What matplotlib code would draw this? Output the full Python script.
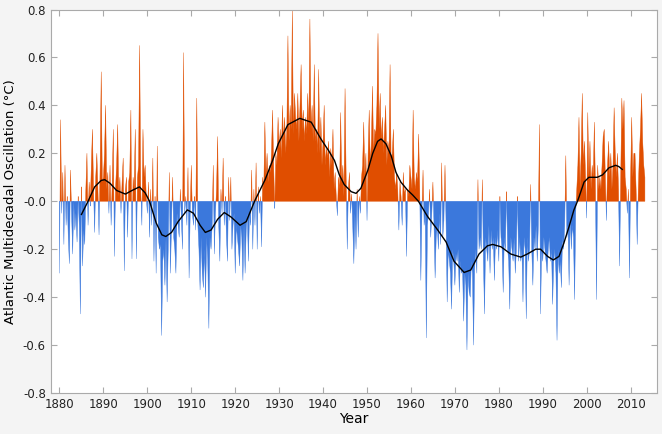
import numpy as np
import matplotlib
matplotlib.use("Agg")
import matplotlib.pyplot as plt

# AMO-Index, vier Werte pro Jahr (Quartale)
amo_1880s = [-0.30, 0.34, -0.05, 0.12, -0.18, 0.15, -0.10, 0.02, -0.15, -0.26, 0.13, -0.05,
             -0.22, 0.00, -0.12, -0.05, -0.17, 0.02, -0.10, -0.47, 0.06, -0.27, -0.12, -0.18,
             0.05, 0.20, -0.10, 0.08, -0.02, 0.15, 0.30, 0.05, -0.13, 0.10, 0.20, 0.05,
             -0.14, 0.15, 0.54, 0.08]
amo_1890s = [0.10, 0.20, 0.40, 0.05, 0.12, -0.05, 0.15, -0.10, 0.08, 0.30, -0.23, 0.05,
             0.15, 0.32, 0.02, 0.10, -0.05, 0.08, 0.18, -0.29, 0.05, 0.10, -0.15, 0.08,
             0.12, 0.38, -0.24, 0.10, 0.05, 0.30, -0.24, 0.10, 0.15, 0.65, 0.05, -0.10,
             0.30, 0.10, 0.15, 0.02]
amo_1900s = [-0.05, 0.08, -0.15, 0.05, -0.10, 0.18, -0.25, 0.02, -0.30, 0.23, -0.15, -0.20,
             -0.18, -0.56, -0.25, -0.20, -0.35, -0.15, -0.42, -0.20, 0.12, -0.30, -0.10, 0.10,
             -0.15, -0.20, -0.30, -0.05, -0.10, -0.15, 0.05, -0.08, -0.20, 0.62, -0.05, 0.02,
             -0.10, 0.14, -0.32, -0.05]
amo_1910s = [0.15, -0.05, -0.10, 0.02, -0.12, 0.43, -0.10, -0.20, -0.37, -0.15, -0.30, -0.36,
             -0.20, -0.40, -0.15, -0.25, -0.53, -0.15, -0.20, -0.10, 0.15, -0.22, -0.05, 0.05,
             0.27, -0.10, -0.25, 0.05, -0.05, 0.18, -0.10, 0.02, -0.15, -0.25, 0.10, -0.08,
             0.10, -0.20, -0.10, -0.05]
amo_1920s = [-0.30, -0.10, -0.15, -0.20, -0.27, -0.10, -0.15, -0.33, -0.10, -0.30, -0.12, -0.05,
             -0.25, -0.05, -0.10, 0.13, -0.20, 0.05, -0.10, 0.16, -0.20, 0.06, -0.05, 0.02,
             -0.19, 0.10, 0.05, 0.33, 0.10, 0.20, 0.08, 0.15, 0.12, 0.20, 0.38, 0.15,
             -0.03, 0.20, 0.15, 0.35]
amo_1930s = [0.22, 0.30, 0.18, 0.40, 0.25, 0.35, 0.20, 0.30, 0.69, 0.25, 0.40, 0.30,
             0.80, 0.28, 0.45, 0.35, 0.30, 0.45, 0.25, 0.40, 0.57, 0.30, 0.38, 0.25,
             0.35, 0.28, 0.45, 0.30, 0.76, 0.30, 0.40, 0.25, 0.57, 0.25, 0.30, 0.20,
             0.55, 0.20, 0.35, 0.15]
amo_1940s = [0.25, 0.40, 0.15, 0.22, 0.18, 0.25, 0.10, 0.22, 0.15, 0.30, 0.05, 0.12,
             0.02, -0.06, 0.10, 0.05, 0.37, 0.08, 0.15, 0.02, 0.47, 0.10, -0.20, 0.05,
             0.12, -0.05, 0.03, -0.10, -0.26, -0.05, -0.20, 0.05, -0.15, 0.02, -0.05, 0.10,
             0.15, 0.33, 0.10, 0.20]
amo_1950s = [-0.08, 0.20, 0.38, 0.15, 0.25, 0.48, 0.20, 0.30, 0.28, 0.40, 0.70, 0.30,
             0.45, 0.25, 0.35, 0.20, 0.30, 0.40, 0.15, 0.25, 0.20, 0.57, 0.15, 0.20,
             0.30, 0.10, 0.05, 0.12, 0.05, -0.12, 0.08, 0.02, -0.10, 0.12, 0.03, 0.05,
             -0.23, 0.05, 0.02, 0.15]
amo_1960s = [0.10, 0.05, 0.38, 0.10, 0.05, 0.12, 0.08, 0.28, 0.05, -0.33, -0.05, 0.13,
             -0.10, -0.05, -0.57, -0.10, -0.05, 0.05, -0.15, -0.05, 0.08, -0.10, -0.32, -0.15,
             -0.10, -0.20, -0.05, -0.18, 0.16, -0.15, -0.08, 0.15, -0.10, -0.42, -0.20, -0.25,
             -0.30, -0.45, -0.20, -0.25]
amo_1970s = [-0.35, -0.22, -0.25, -0.20, -0.38, -0.25, -0.30, -0.28, -0.50, -0.30, -0.35, -0.62,
             -0.30, -0.38, -0.40, -0.25, -0.30, -0.60, -0.28, -0.20, -0.30, 0.09, -0.20, -0.15,
             -0.20, 0.09, -0.25, -0.47, -0.15, -0.20, -0.25, -0.10, -0.30, -0.12, -0.20, -0.15,
             -0.33, -0.15, -0.20, -0.12]
amo_1980s = [-0.25, 0.02, -0.15, -0.20, -0.38, -0.15, -0.20, 0.04, -0.20, -0.25, -0.45, -0.15,
             -0.20, -0.25, -0.15, -0.30, -0.20, 0.02, -0.25, -0.15, -0.25, -0.20, -0.42, -0.15,
             -0.20, -0.49, -0.15, -0.25, -0.20, 0.07, -0.20, -0.35, -0.15, -0.20, -0.10, -0.25,
             -0.10, 0.32, -0.47, -0.20]
amo_1990s = [-0.25, -0.15, -0.20, -0.25, -0.30, -0.20, -0.15, -0.25, -0.20, -0.43, -0.25, -0.20,
             -0.30, -0.58, -0.20, -0.30, -0.25, -0.36, -0.15, -0.20, -0.10, 0.19, -0.15, -0.10,
             -0.35, -0.05, -0.20, -0.10, -0.15, -0.41, -0.05, 0.05, 0.15, 0.35, 0.05, 0.20,
             0.45, 0.15, 0.25, 0.10]
amo_2000s = [-0.07, 0.37, 0.10, 0.25, 0.05, 0.15, 0.10, 0.33, 0.05, -0.41, 0.15, 0.05,
             0.10, 0.05, 0.15, 0.27, 0.30, 0.10, -0.08, 0.15, 0.25, 0.10, 0.20, 0.05,
             0.15, 0.39, 0.20, 0.10, 0.20, 0.05, -0.27, 0.10, 0.43, 0.30, 0.42, 0.10,
             0.05, -0.05, 0.05, -0.32]
amo_2010s = [0.10, 0.35, 0.10, 0.20, 0.20, 0.05, -0.18, 0.05, 0.20, 0.30, 0.45, 0.25,
             0.15, 0.10]

# geglaettete Kurve (Jahr, Wert)
smooth_years = [1885.0, 1886.5, 1888.0, 1889.5, 1890.3, 1891.5, 1893.0, 1895.0, 1896.5, 1898.2,
                1899.5, 1900.5, 1902.0, 1903.3, 1904.2, 1905.5, 1907.0, 1909.1, 1910.5, 1912.0,
                1913.2, 1914.5, 1916.0, 1917.5, 1919.0, 1921.1, 1922.5, 1924.4, 1926.8, 1928.5,
                1929.8, 1932.0, 1934.7, 1937.3, 1939.5, 1941.3, 1942.6, 1943.7, 1944.8, 1946.4,
                1947.5, 1948.6, 1950.2, 1951.3, 1952.4, 1953.2, 1954.3, 1955.5, 1956.6, 1957.7,
                1959.2, 1960.4, 1961.7, 1963.8, 1966.1, 1968.0, 1969.8, 1972.1, 1973.6, 1975.5,
                1977.4, 1978.6, 1980.5, 1982.7, 1985.0, 1986.5, 1988.4, 1989.5, 1991.1, 1992.4,
                1993.7, 1994.8, 1996.0, 1997.1, 1997.9, 1998.3, 1999.4, 2000.5, 2002.4, 2003.6,
                2005.1, 2006.6, 2007.3, 2008.1]
smooth_vals = [-0.055, 0.0, 0.06, 0.087, 0.09, 0.075, 0.045, 0.03, 0.045, 0.06,
               0.035, 0.0, -0.09, -0.14, -0.147, -0.13, -0.085, -0.036, -0.05, -0.1,
               -0.13, -0.12, -0.075, -0.047, -0.065, -0.1, -0.085, 0.0, 0.09, 0.17,
               0.24, 0.32, 0.346, 0.33, 0.26, 0.21, 0.17, 0.11, 0.07, 0.04,
               0.033, 0.054, 0.13, 0.2, 0.25, 0.26, 0.24, 0.19, 0.12, 0.08,
               0.047, 0.026, 0.0, -0.064, -0.12, -0.17, -0.25, -0.297, -0.287, -0.22,
               -0.186, -0.18, -0.19, -0.22, -0.233, -0.22, -0.2, -0.2, -0.23, -0.245,
               -0.23, -0.175, -0.105, -0.036, 0.0, 0.02, 0.08, 0.1, 0.1, 0.11,
               0.14, 0.15, 0.145, 0.133]

amo = np.array(amo_1880s + amo_1890s + amo_1900s + amo_1910s + amo_1920s + amo_1930s +
               amo_1940s + amo_1950s + amo_1960s + amo_1970s + amo_1980s + amo_1990s +
               amo_2000s + amo_2010s)
years = 1880 + np.arange(len(amo)) / 4.0

fig = plt.figure(figsize=(6.62, 4.34), dpi=100, facecolor='#f4f4f4')
ax = fig.add_axes([0.0766, 0.0945, 0.9158, 0.8835])
ax.set_facecolor('white')

ax.fill_between(years, amo, 0, where=amo >= 0, interpolate=True,
                color='#e04e00', linewidth=0.3)
ax.fill_between(years, amo, 0, where=amo <= 0, interpolate=True,
                color='#3b78dc', linewidth=0.3)
ax.plot(smooth_years, smooth_vals, color='black', linewidth=1.0)

ax.set_xlim(1878, 2016)
ax.set_ylim(-0.8, 0.8)
ax.set_xticks(np.arange(1880, 2011, 10))
ax.set_yticks(np.arange(-0.8, 0.81, 0.2))
ax.set_yticklabels(['%.1f' % v for v in np.arange(-0.8, 0.81, 0.2)])
ax.tick_params(direction='in', top=True, right=True, length=4, width=0.8,
               color='#aaaaaa', labelsize=8.5, labelcolor='#222222')
for s in ax.spines.values():
    s.set_color('#aaaaaa')
    s.set_linewidth(0.8)

ax.set_xlabel('Year', fontsize=10, labelpad=1)
ax.set_ylabel('Atlantic Multidecadal Oscillation (°C)', fontsize=9.5, labelpad=4)

fig.savefig('out.png', dpi=100, facecolor=fig.get_facecolor())
